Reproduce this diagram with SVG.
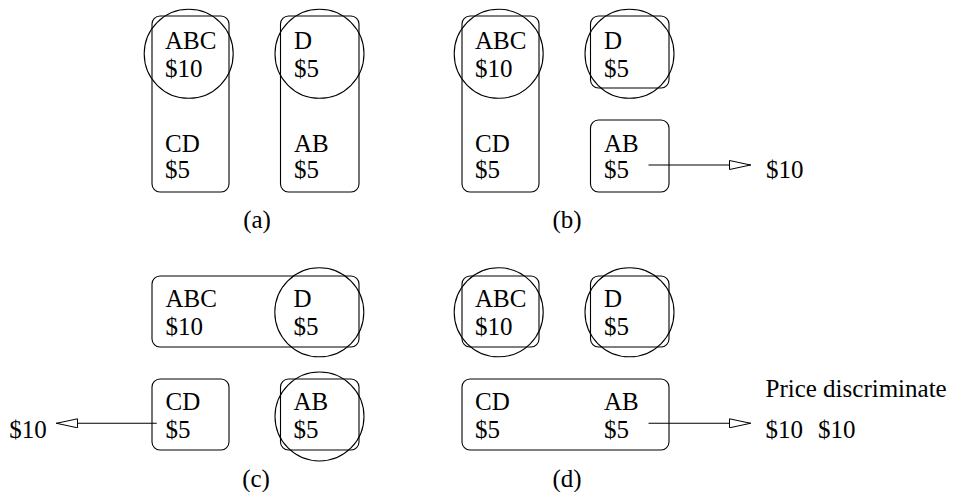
<svg xmlns="http://www.w3.org/2000/svg" width="954" height="492" viewBox="0 0 954 492">
<style>
text{font-family:"Liberation Serif","Times New Roman",serif;font-size:25px;fill:#000}
.b{fill:none;stroke:#000;stroke-width:1.1}
.c{fill:none;stroke:#000;stroke-width:1.1}
.l{stroke:#000;stroke-width:1.1;fill:none}
.m{text-anchor:middle}
</style>
<defs>
<marker id="ah" viewBox="0 0 22 10" refX="22" refY="5" markerWidth="22" markerHeight="10" markerUnits="userSpaceOnUse" orient="auto">
<polygon points="0.5,0.5 21.5,5 0.5,9.5" fill="#fff" stroke="#000" stroke-width="1"/>
</marker>
</defs>
<!-- Panel (a) -->
<g id="a-left">
<rect class="b" x="152" y="16" width="77" height="176" rx="8"/>
<circle class="c" cx="188.7" cy="53.8" r="44.5"/>
<text x="165" y="49.3">ABC</text><text x="165" y="76.7">$10</text>
<text x="165" y="151.7">CD</text><text x="165" y="178.3">$5</text>
</g>
<g id="a-right">
<rect class="b" x="280.5" y="16" width="78.5" height="176" rx="8"/>
<circle class="c" cx="319.5" cy="53.8" r="44.5"/>
<text x="294" y="49.3">D</text><text x="294" y="76.7">$5</text>
<text x="294" y="151.7">AB</text><text x="294" y="178.3">$5</text>
</g>
<text id="label-a" class="m" x="257" y="228">(a)</text>
<!-- Panel (b) -->
<g id="b-left">
<rect class="b" x="462" y="16" width="77" height="176" rx="8"/>
<circle class="c" cx="498.7" cy="53.8" r="44.5"/>
<text x="475" y="49.3">ABC</text><text x="475" y="76.7">$10</text>
<text x="475" y="151.7">CD</text><text x="475" y="178.3">$5</text>
</g>
<g id="b-d">
<rect class="b" x="590.5" y="16" width="78.5" height="72" rx="8"/>
<circle class="c" cx="629.5" cy="53.8" r="44.5"/>
<text x="604" y="49.3">D</text><text x="604" y="76.7">$5</text>
</g>
<g id="b-ab">
<rect class="b" x="590.5" y="120" width="78.5" height="72" rx="8"/>
<text x="604" y="151.7">AB</text><text x="604" y="178.3">$5</text>
</g>
<text id="b-price" x="766" y="178.3">$10</text>
<text id="label-b" class="m" x="567" y="228">(b)</text>
<!-- Panel (c) -->
<g id="c-top">
<rect class="b" x="152" y="276" width="207" height="71" rx="8"/>
<circle class="c" cx="319.3" cy="312.3" r="44.5"/>
<text x="165.5" y="306.7">ABC</text><text x="165.5" y="335">$10</text>
<text x="293.5" y="306.7">D</text><text x="293.5" y="335">$5</text>
</g>
<g id="c-cd">
<rect class="b" x="152" y="379" width="77" height="71" rx="8"/>
<text x="165.5" y="410">CD</text><text x="165.5" y="438.3">$5</text>
</g>
<g id="c-ab">
<rect class="b" x="280.5" y="379" width="78.5" height="71" rx="8"/>
<circle class="c" cx="319.5" cy="416.5" r="44.5"/>
<text x="293.5" y="410">AB</text><text x="293.5" y="438.3">$5</text>
</g>
<text id="c-price" x="9.3" y="438.3">$10</text>
<text id="label-c" class="m" x="256" y="487">(c)</text>
<!-- Panel (d) -->
<g id="d-abc">
<rect class="b" x="462" y="276" width="77" height="71" rx="8"/>
<circle class="c" cx="498.7" cy="312.3" r="44.5"/>
<text x="475" y="306.7">ABC</text><text x="475" y="335">$10</text>
</g>
<g id="d-d">
<rect class="b" x="590.5" y="276" width="78.5" height="71" rx="8"/>
<circle class="c" cx="629.5" cy="312.3" r="44.5"/>
<text x="604" y="306.7">D</text><text x="604" y="335">$5</text>
</g>
<g id="d-bottom">
<rect class="b" x="462" y="379" width="207" height="71" rx="8"/>
<text x="475" y="410">CD</text><text x="475" y="438.3">$5</text>
<text x="604" y="410">AB</text><text x="604" y="438.3">$5</text>
</g>
<g id="d-price">
<text x="765.5" y="397">Price discriminate</text>
<text x="765.5" y="437.5">$10</text><text x="818" y="437.5">$10</text>
</g>
<text id="label-d" class="m" x="567" y="487">(d)</text>
<!-- Connectors -->
<g id="connectors">
<line class="l" x1="648.5" y1="165" x2="751" y2="165" marker-end="url(#ah)"/>
<line class="l" x1="156.7" y1="423.3" x2="56" y2="423.3" marker-end="url(#ah)"/>
<line class="l" x1="648.5" y1="423.3" x2="751" y2="423.3" marker-end="url(#ah)"/>
</g>
</svg>
